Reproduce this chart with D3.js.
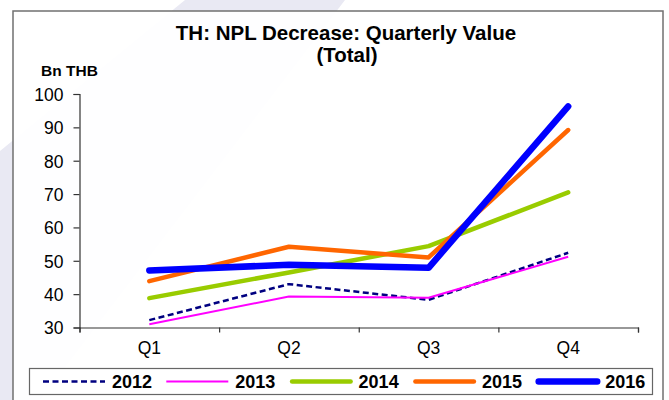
<!DOCTYPE html>
<html>
<head>
<meta charset="utf-8">
<script src="https://cdn.jsdelivr.net/npm/d3@7"></script>
<style>
  body { margin: 0; background: #fff; }
  text { font-family: "Liberation Sans", Arial, sans-serif; fill: #000; }
</style>
</head>
<body>
<script>
// data
var quarters = ["Q1", "Q2", "Q3", "Q4"];
var years = ["2012", "2013", "2014", "2015", "2016"];
var v2012 = [32.2, 43.0, 38.3, 52.4];
var v2013 = [31.0, 39.3, 38.9, 51.2];
var v2014 = [38.8, 46.5, 54.4, 70.5];
var v2015 = [43.9, 54.2, 51.0, 89.2];
var v2016 = [47.1, 48.8, 47.9, 96.3];
var yTicks = [30, 40, 50, 60, 70, 80, 90, 100];

var seriesValues = [v2012, v2013, v2014, v2015, v2016];

// styles per year
var colors = ["#000080", "#ff00ff", "#99cc00", "#ff6600", "#0000ff"];
var widths = [2.5, 2, 4.5, 4.5, 6.5];
var dashes = ["6,3.5", null, null, null, null];

var svgWidth = 669;
var svgHeight = 400;

var margin = {
  top: 94,
  left: 79.5,
  right: 31,
  bottom: 72.5
};
var width = svgWidth - margin.left - margin.right;
var height = svgHeight - margin.top - margin.bottom;

var svg = d3.select("body")
  .append("svg")
  .attr("width", svgWidth)
  .attr("height", svgHeight);

// faint watermark behind the chart
svg.append("polygon")
  .attr("points", "185,0 345,0 40,400 0,400 0,151")
  .attr("fill", "#e9e9f3");

// outer frame
svg.append("rect")
  .attr("x", 13)
  .attr("y", 11)
  .attr("width", 650)
  .attr("height", 400)
  .attr("fill", "#fff")
  .attr("fill-opacity", 0.93)
  .attr("stroke", "#707070")
  .attr("stroke-width", 1.5);

// title
svg.append("text")
  .attr("x", 346)
  .attr("y", 40)
  .attr("text-anchor", "middle")
  .style("font-size", "20.5px")
  .style("font-weight", "bold")
  .text("TH: NPL Decrease: Quarterly Value");

svg.append("text")
  .attr("x", 347)
  .attr("y", 62)
  .attr("text-anchor", "middle")
  .style("font-size", "20.5px")
  .style("font-weight", "bold")
  .text("(Total)");

svg.append("text")
  .attr("x", 41)
  .attr("y", 76)
  .style("font-size", "15.5px")
  .style("font-weight", "bold")
  .text("Bn THB");

var plot = svg.append("g")
  .attr("transform", `translate(${margin.left}, ${margin.top})`);

var xScale = d3.scaleBand().domain(quarters).range([0, width]);
var xEdges = d3.scaleLinear().domain([0, quarters.length]).range([0, width]);
var yScale = d3.scaleLinear().domain([30, 100]).range([height, 0]);

// y axis
var yAxis = plot.append("g")
  .call(d3.axisLeft(yScale).tickValues(yTicks).tickSize(6).tickPadding(10));
yAxis.selectAll("text").style("font-size", "17.5px").attr("dy", "0.36em");

// x axis: tick marks at band edges, labels at band centres
var xTicks = plot.append("g")
  .attr("transform", `translate(0, ${height})`)
  .call(d3.axisBottom(xEdges).ticks(quarters.length).tickSize(5).tickFormat(""));

var xAxis = plot.append("g")
  .attr("transform", `translate(0, ${height})`)
  .call(d3.axisBottom(xScale).tickSize(0).tickPadding(14));
xAxis.select(".domain").remove();
xAxis.selectAll("text").style("font-size", "17.5px");

plot.selectAll(".domain, .tick line")
  .attr("stroke", "#333")
  .attr("stroke-width", 1.2);

// lines
var line = d3.line()
  .x((d, i) => xScale(quarters[i]) + xScale.bandwidth() / 2)
  .y(d => yScale(d));

plot.selectAll(".series")
  .data(seriesValues)
  .enter()
  .append("path")
  .attr("class", "series")
  .attr("d", d => line(d))
  .attr("fill", "none")
  .attr("stroke", (d, i) => colors[i])
  .attr("stroke-width", (d, i) => widths[i])
  .attr("stroke-dasharray", (d, i) => dashes[i])
  .attr("stroke-linecap", (d, i) => i >= 2 ? "round" : "butt")
  .attr("stroke-linejoin", "round");

// legend
var legend = svg.append("g");

legend.append("rect")
  .attr("x", 29.5)
  .attr("y", 368.5)
  .attr("width", 623)
  .attr("height", 26)
  .attr("fill", "#fff")
  .attr("stroke", "#666")
  .attr("stroke-width", 1.2);

var items = legend.selectAll(".item")
  .data(years)
  .enter()
  .append("g")
  .attr("class", "item")
  .attr("transform", (d, i) => `translate(${43 + i * 123.3}, 381.5)`);

items.append("line")
  .attr("x1", (d, i) => i >= 2 ? 2.5 : 0)
  .attr("x2", (d, i) => i >= 2 ? 61 : 62)
  .attr("stroke", (d, i) => colors[i])
  .attr("stroke-width", (d, i) => i == 1 ? 2 : widths[i])
  .attr("stroke-dasharray", (d, i) => dashes[i])
  .attr("stroke-linecap", (d, i) => i >= 2 ? "round" : "butt");

items.append("text")
  .attr("x", 69)
  .attr("y", 6.5)
  .style("font-size", "18px")
  .style("font-weight", "bold")
  .text(d => d);
</script>
</body>
</html>
